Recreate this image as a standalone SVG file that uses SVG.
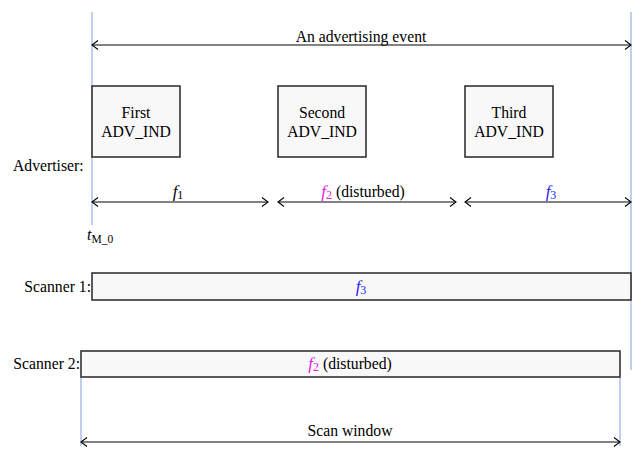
<svg xmlns="http://www.w3.org/2000/svg" width="641" height="452" viewBox="0 0 641 452">
<style>
text{font-size:15.7px;fill:#000}
.m{text-anchor:middle}
.e{text-anchor:end}
.box{fill:#f8f8f8;stroke:#333;stroke-width:1.6}
.arr{stroke:#595959;stroke-width:1.5;fill:none;marker-start:url(#ah);marker-end:url(#ah)}
.vl{stroke:#a9c1e6;stroke-width:1.5}
.pk{fill:#e619e6}
.bl{fill:#1a1aff}
</style>
<defs>
<marker id="ah" viewBox="0 0 10 10" refX="9" refY="5" markerWidth="10" markerHeight="10" markerUnits="userSpaceOnUse" orient="auto-start-reverse">
<path d="M3,0.5 L9,5 L3,9.5" fill="none" stroke="#000" stroke-width="1.1"/>
</marker>
</defs>
<g font-family="'Liberation Serif', 'DejaVu Serif', serif">
<g id="guides">
<line class="vl" x1="92" y1="12" x2="92" y2="225"/>
<line class="vl" x1="631" y1="12" x2="631" y2="370"/>
<line class="vl" x1="81" y1="377" x2="81" y2="446"/>
<line class="vl" x1="620" y1="377" x2="620" y2="446"/>
</g>
<g id="connectors">
<line class="arr" x1="92" y1="45" x2="631" y2="45"/>
<line class="arr" x1="92" y1="202" x2="268" y2="202"/>
<line class="arr" x1="278" y1="202" x2="456" y2="202"/>
<line class="arr" x1="465" y1="202" x2="631" y2="202"/>
<line class="arr" x1="81" y1="442" x2="620" y2="442"/>
</g>
<text class="m" x="361" y="42">An advertising event</text>
<g id="first">
<rect class="box" x="92" y="86" width="88" height="71"/>
<text class="m" x="136" y="118">First</text>
<text class="m" x="136" y="137">ADV_IND</text>
</g>
<g id="second">
<rect class="box" x="278" y="86" width="88" height="71"/>
<text class="m" x="322" y="118">Second</text>
<text class="m" x="322" y="137">ADV_IND</text>
</g>
<g id="third">
<rect class="box" x="465" y="86" width="88" height="71"/>
<text class="m" x="509" y="118">Third</text>
<text class="m" x="509" y="137">ADV_IND</text>
</g>
<text x="13" y="171">Advertiser:</text>
<text class="m" x="178" y="197"><tspan font-style="italic" font-size="17">f</tspan><tspan font-size="12" dy="2">1</tspan></text>
<text class="m" x="363" y="197"><tspan class="pk" font-style="italic" font-size="17">f</tspan><tspan class="pk" font-size="12" dy="2">2</tspan><tspan dy="-2"> (disturbed)</tspan></text>
<text class="m" x="551" y="197"><tspan class="bl" font-style="italic" font-size="17">f</tspan><tspan class="bl" font-size="12" dy="2">3</tspan></text>
<text x="87" y="240"><tspan font-style="italic" font-size="16">t</tspan><tspan font-size="11.5" dy="3">M_0</tspan></text>
<g id="scanner1">
<rect class="box" x="92" y="273" width="539" height="27"/>
<text class="e" x="91" y="292">Scanner 1:</text>
<text class="m" x="361" y="292"><tspan class="bl" font-style="italic" font-size="17">f</tspan><tspan class="bl" font-size="12" dy="2">3</tspan></text>
</g>
<g id="scanner2">
<rect class="box" x="81" y="351" width="539" height="26"/>
<text class="e" x="80" y="369">Scanner 2:</text>
<text class="m" x="350" y="369"><tspan class="pk" font-style="italic" font-size="17">f</tspan><tspan class="pk" font-size="12" dy="2">2</tspan><tspan dy="-2"> (disturbed)</tspan></text>
</g>
<text class="m" x="350" y="436">Scan window</text>
</g>
</svg>
